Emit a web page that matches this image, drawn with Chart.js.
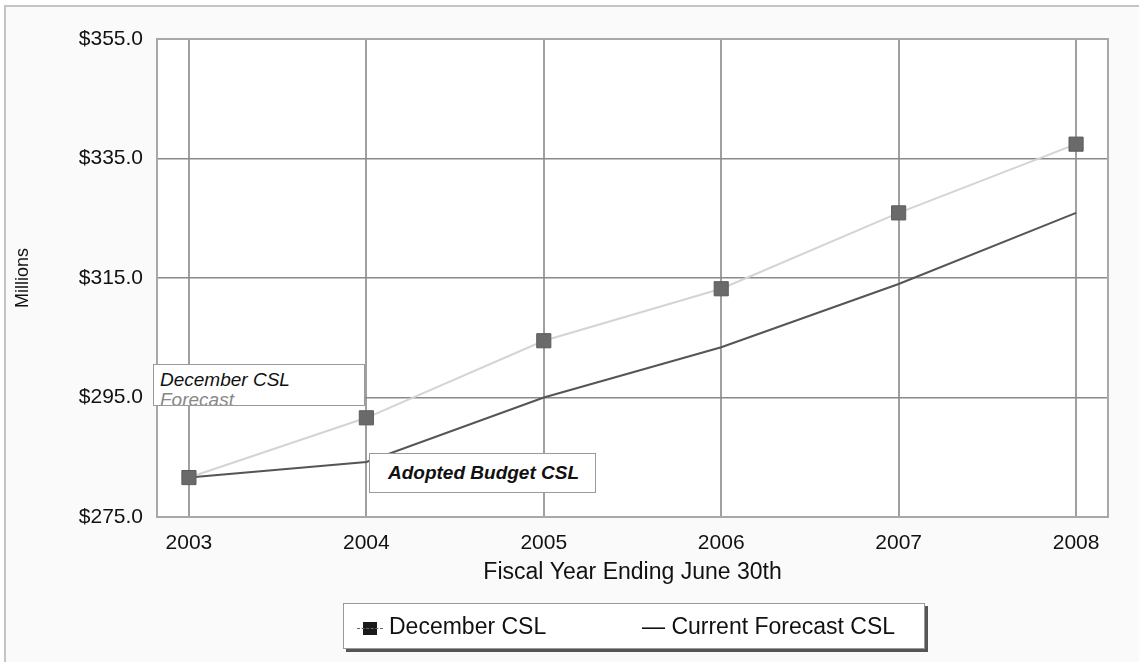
<!DOCTYPE html>
<html>
<head>
<meta charset="utf-8">
<script src="https://cdn.jsdelivr.net/npm/chart.js@4"></script>
<style>
  body { margin: 0; background: #fff; font-family: "Liberation Sans", Arial, sans-serif; }
  #wrap { position: relative; width: 1139px; height: 662px; overflow: hidden; }
  #frame { position: absolute; left: 4px; top: 5px; width: 1200px; height: 700px;
    border-top: 2px solid #c4c4c4; border-left: 2px solid #c4c4c4; background: #fafafa; }
  #myChart { position: absolute; left: 0; top: 0; }
  .note { position: absolute; background: #fff; border: 1px solid #9a9a9a; overflow: hidden; color: #111; }
  #noteDec { left: 153px; top: 364px; width: 212px; height: 42px; font-style: italic; font-size: 19px; line-height: 20px; padding: 5px 0 0 6px; box-sizing: border-box; }
  #noteDec span { color: #888; }
  #noteAdopt { left: 369px; top: 453px; width: 227px; height: 40px; font-style: italic; font-weight: bold; font-size: 19px; line-height: 38px; padding-left: 18px; box-sizing: border-box; }
  #legend { position: absolute; left: 343px; top: 603px; width: 580px; height: 44px; background: #fff;
    border: 1px solid #999; box-shadow: 3px 3px 0 #555; font-size: 23px; color: #111; }
  #legend .item { position: absolute; top: 8px; line-height: 28px; white-space: nowrap; }
  #legend .mark { position: relative; display: inline-block; width: 14px; height: 13px; background: #1a1a1a; vertical-align: -1px; margin-right: 12px; }
  #legend .mark:before { content: ""; position: absolute; left: -6px; right: -6px; top: 6px; border-top: 1px dashed #666; }
</style>
</head>
<body>
<div id="wrap">
  <div id="frame"></div>
  <canvas id="myChart" width="1139" height="662"></canvas>
  <div class="note" id="noteDec">December CSL<br><span>Forecast</span></div>
  <div class="note" id="noteAdopt">Adopted Budget CSL</div>
  <div id="legend">
    <div class="item" style="left:19px"><span class="mark"></span>December CSL</div>
    <div class="item" style="left:298px">— Current Forecast CSL</div>
  </div>
</div>
<script>
// fiscal years and values in millions
var years = [2003, 2004, 2005, 2006, 2007, 2008]
var decemberCSL = [281.6, 291.6, 304.5, 313.2, 325.9, 337.4]
var currentForecastCSL = [281.6, 284.2, 295.0, 303.4, 314.0, 325.9]
var yTicks = [275, 295, 315, 335, 355]

function toPoints(vals) {
  return years.map(function (y, i) { return { x: y, y: vals[i] } })
}

// white plot area with a border round it
var plotBox = {
  id: 'plotBox',
  beforeDraw: function (chart) {
    var a = chart.chartArea, ctx = chart.ctx
    ctx.save()
    ctx.fillStyle = '#fff'
    ctx.fillRect(a.left, a.top, a.right - a.left, a.bottom - a.top)
    ctx.restore()
  },
  beforeDatasetsDraw: function (chart) {
    var a = chart.chartArea, ctx = chart.ctx
    ctx.save()
    ctx.strokeStyle = '#a8a8a8'
    ctx.lineWidth = 2
    ctx.strokeRect(a.left, a.top, a.right - a.left, a.bottom - a.top)
    ctx.restore()
  }
}

var ctx = document.getElementById('myChart').getContext('2d')
var myChart = new Chart(ctx, {
  type: 'line',
  data: {
    datasets: [{
      label: 'December CSL',
      data: toPoints(decemberCSL),
      borderColor: '#d4d4d4',
      borderWidth: 2,
      pointStyle: 'rect',
      pointRadius: 10,
      pointBackgroundColor: '#6a6a6a',
      pointBorderColor: '#5c5c5c',
      pointBorderWidth: 1,
      tension: 0
    }, {
      label: 'Current Forecast CSL',
      data: toPoints(currentForecastCSL),
      borderColor: '#555',
      borderWidth: 2,
      pointRadius: 0,
      tension: 0
    }]
  },
  options: {
    responsive: false,
    animation: false,
    layout: { padding: { left: 0, top: 39, right: 31, bottom: 62 } },
    plugins: { legend: { display: false }, tooltip: { enabled: false } },
    scales: {
      x: {
        type: 'linear',
        min: 2002.82,
        max: 2008.18,
        afterBuildTicks: function (s) { s.ticks = years.map(function (v) { return { value: v } }) },
        afterFit: function (s) { s.height = 83 },
        grid: { color: '#a0a0a0', lineWidth: 2, drawTicks: false },
        border: { display: false },
        ticks: { padding: 14, color: '#111', font: { family: 'Liberation Sans', size: 21 }, callback: function (v) { return String(v) } },
        title: { display: true, text: 'Fiscal Year Ending June 30th', color: '#111', font: { family: 'Liberation Sans', size: 23 }, padding: { top: 0, bottom: 14 } }
      },
      y: {
        min: 275,
        max: 355,
        afterBuildTicks: function (s) { s.ticks = yTicks.map(function (v) { return { value: v } }) },
        afterFit: function (s) { s.width = 157 },
        grid: { color: '#8a8a8a', lineWidth: 1.5, drawTicks: false },
        border: { display: false },
        ticks: { padding: 14, color: '#111', font: { family: 'Liberation Sans', size: 21 }, callback: function (v) { return '$' + v.toFixed(1) } },
        title: { display: true, text: 'Millions', color: '#111', font: { family: 'Liberation Sans', size: 18 }, padding: { top: 12, bottom: 0 } }
      }
    }
  },
  plugins: [plotBox]
})
</script>
</body>
</html>
